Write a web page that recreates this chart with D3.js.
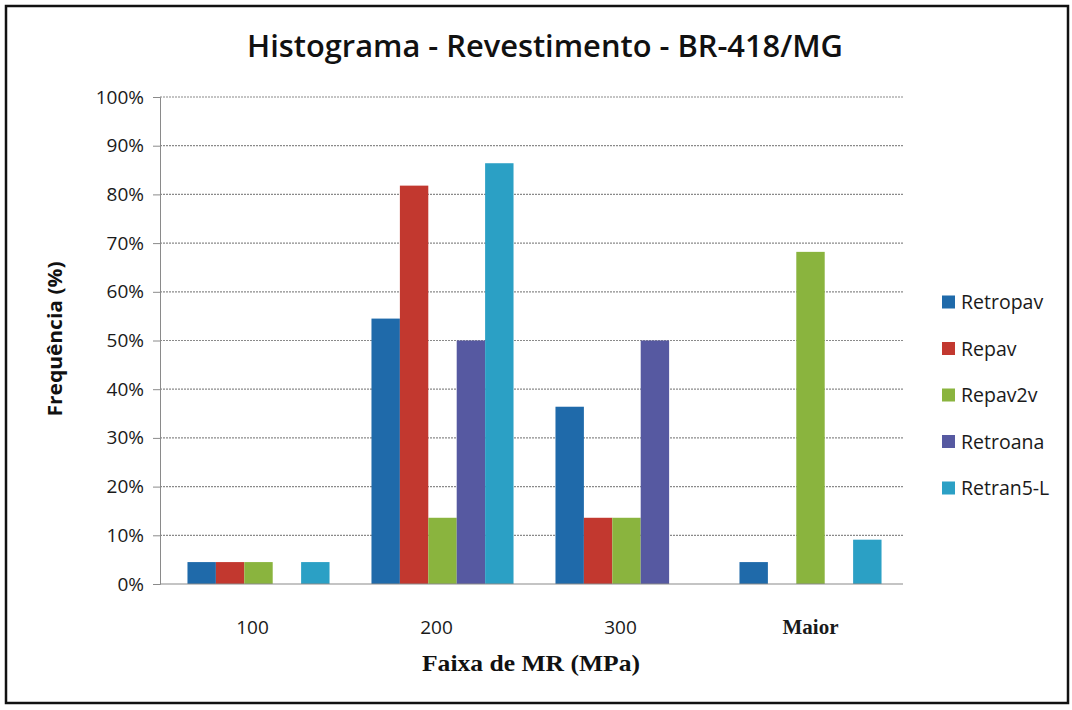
<!DOCTYPE html>
<html><head><meta charset="utf-8">
<script src="https://cdn.jsdelivr.net/npm/d3@7"></script>
<style>body{margin:0;background:#fff}svg{display:block}</style>
</head><body>
<svg id="c" width="1072" height="710"></svg>
<script>
const categories = ["100", "200", "300", "Maior"];
const seriesNames = ["Retropav", "Repav", "Repav2v", "Retroana", "Retran5-L"];
const retropav = [4.5, 54.5, 36.4, 4.5];
const repav = [4.5, 81.8, 13.6, 0];
const repav2v = [4.5, 13.6, 13.6, 68.2];
const retroana = [0, 50, 50, 0];
const retran5L = [4.5, 86.4, 0, 9.1];
const seriesColors = ["#1f6aaa", "#c2382f", "#8ab43e", "#5659a1", "#2ba0c5"];
const yTicks = [0,10,20,30,40,50,60,70,80,90,100];

const series = [retropav, repav, repav2v, retroana, retran5L];
const svg = d3.select("#c");
const m = {left:160, right:903, top:97, bottom:584};

svg.append("rect").attr("x",6).attr("y",6).attr("width",1062).attr("height",697)
  .attr("fill","#fff").attr("stroke","#111").attr("stroke-width",2.5);

const x0 = d3.scaleBand().domain(categories).range([163, 906]).paddingInner(0.228).paddingOuter(0.133);
const x1 = d3.scaleBand().domain(seriesNames).range([0, x0.bandwidth()]);
const y = d3.scaleLinear().domain([0,100]).range([m.bottom, m.top]);

// gridlines
svg.append("g").selectAll("line").data(yTicks.filter(d=>d>0)).join("line")
  .attr("x1", m.left).attr("x2", m.right).attr("y1", d=>y(d)).attr("y2", d=>y(d))
  .attr("stroke","#8a8a8a").attr("stroke-width",1.2).attr("stroke-dasharray","2,1");

// y axis
const yAxis = d3.axisLeft(y).tickValues(yTicks).tickFormat(d=>d+"%").tickSize(7).tickPadding(9);
const ya = svg.append("g").attr("transform",`translate(${m.left},0)`).call(yAxis);
ya.select(".domain").attr("stroke","#8a8a8a");
ya.selectAll(".tick line").attr("stroke","#8a8a8a");
ya.selectAll(".tick text").attr("font-family","Open Sans, sans-serif").attr("font-size",19).attr("fill","#1a1a1a");

// bars
const g = svg.append("g");
series.forEach((vals, si) => {
  g.append("g").selectAll("rect").data(vals.map((v,i)=>({c:categories[i], v}))).join("rect")
    .attr("x", d=>x0(d.c)+x1(seriesNames[si]))
    .attr("width", x1.bandwidth())
    .attr("y", d=>y(d.v))
    .attr("height", d=>y(0)-y(d.v))
    .attr("fill", seriesColors[si]);
});

// x axis baseline
svg.append("line").attr("x1",m.left).attr("x2",m.right).attr("y1",y(0)).attr("y2",y(0))
  .attr("stroke","#8a8a8a").attr("stroke-width",1.2);

// x labels
const xAxis = d3.axisBottom(x0).tickSize(0).tickPadding(0);
const xa = svg.append("g").attr("transform",`translate(0,${y(0)})`).call(xAxis);
xa.select(".domain").remove();
xa.selectAll(".tick text").attr("y",50).attr("dy",0)
  .attr("dx", d=> d==="Maior" ? 0 : -6)
  .attr("font-family", d=> d==="Maior" ? "Liberation Serif, serif" : "Open Sans, sans-serif")
  .attr("font-weight", d=> d==="Maior" ? "bold" : "normal")
  .attr("font-size", d=> d==="Maior" ? 21 : 19).attr("fill","#1a1a1a");

// titles
svg.append("text").attr("x",545).attr("y",57).attr("text-anchor","middle")
  .attr("font-family","Open Sans, sans-serif").attr("font-weight",600).attr("font-size",30)
  .attr("textLength",596).attr("lengthAdjust","spacingAndGlyphs").attr("fill","#111")
  .text("Histograma - Revestimento - BR-418/MG");

svg.append("text").attr("transform","translate(62,339) rotate(-90)").attr("text-anchor","middle")
  .attr("font-family","Open Sans, sans-serif").attr("font-weight",700).attr("font-size",19)
  .attr("textLength",155).attr("lengthAdjust","spacingAndGlyphs")
  .attr("fill","#111").text("Frequência (%)");

svg.append("text").attr("x",531).attr("y",671).attr("text-anchor","middle")
  .attr("font-family","Liberation Serif, serif").attr("font-weight",700).attr("font-size",23)
  .attr("textLength",218).attr("lengthAdjust","spacingAndGlyphs")
  .attr("fill","#111").text("Faixa de MR (MPa)");

// legend
const lg = svg.append("g").selectAll("g").data(seriesNames).join("g")
  .attr("transform",(d,i)=>`translate(942,${302 + i*46.5})`);
lg.append("rect").attr("x",0).attr("y",-6.5).attr("width",13).attr("height",13).attr("fill",(d,i)=>seriesColors[i]);
lg.append("text").attr("x",19).attr("y",0).attr("dy","0.36em")
  .attr("font-family","Open Sans, sans-serif").attr("font-size",19.5).attr("fill","#1a1a1a").text(d=>d);
</script>
</body></html>
